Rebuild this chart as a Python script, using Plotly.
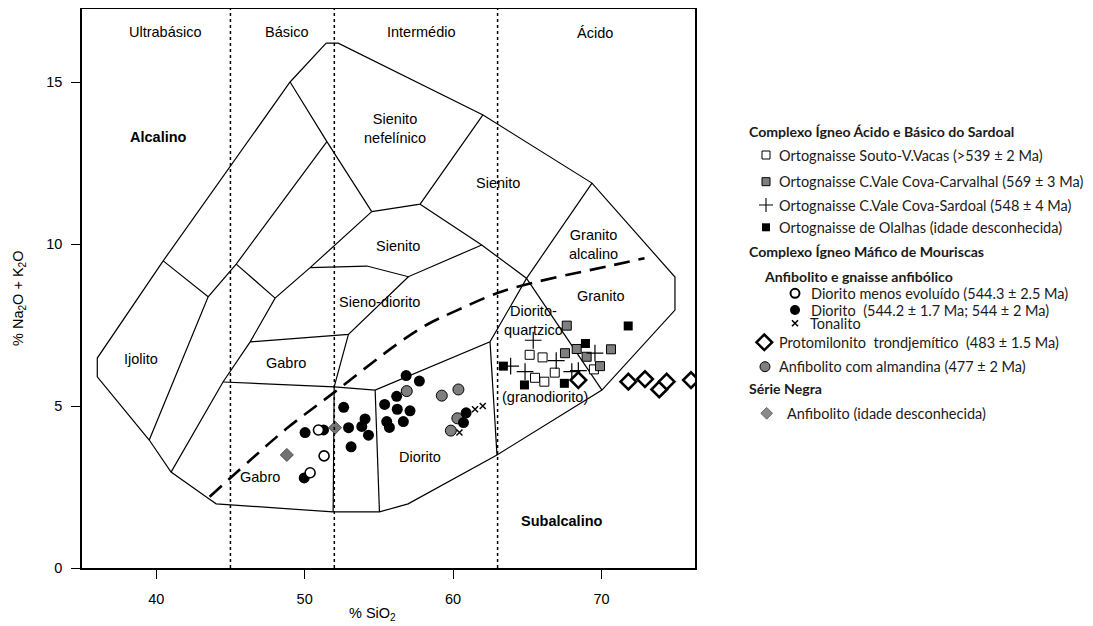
import plotly.graph_objects as go

# ---------------- data (SiO2 %, Na2O+K2O %) ----------------
souto_x = [65.16, 66.03, 65.52, 66.15, 66.85, 69.49]
souto_y = [6.58, 6.50, 5.87, 5.75, 6.03, 6.13]

carvalhal_x = [67.66, 67.54, 68.33, 69.00, 70.64, 69.90]
carvalhal_y = [7.48, 6.63, 6.76, 6.52, 6.75, 6.23]

sardoal_x = [65.40, 63.88, 64.85, 66.95, 68.00, 68.44, 69.56]
sardoal_y = [7.03, 6.23, 6.06, 6.40, 6.06, 6.09, 6.63]

olalhas_x = [63.39, 64.81, 67.50, 68.92, 71.80]
olalhas_y = [6.23, 5.65, 5.70, 6.93, 7.47]

dior_menos_x = [50.93, 51.31, 50.37]
dior_menos_y = [4.26, 3.46, 2.94]

diorito_x = [50.03, 49.97, 51.27, 52.63, 52.96, 53.13, 53.85, 54.07, 54.30, 55.39,
             55.53, 55.71, 56.20, 56.24, 56.65, 57.10, 56.84, 57.73, 60.88, 60.70]
diorito_y = [4.18, 2.78, 4.26, 4.96, 4.33, 3.74, 4.37, 4.60, 4.10, 5.05,
             4.52, 4.34, 5.30, 4.90, 4.52, 4.85, 5.94, 5.77, 4.79, 4.49]

tonalito_x = [61.48, 62.00, 60.43]
tonalito_y = [4.90, 5.00, 4.18]

protomil_x = [68.44, 71.81, 72.93, 73.89, 74.39, 76.03]
protomil_y = [5.80, 5.75, 5.83, 5.51, 5.75, 5.80]

almandina_x = [56.88, 59.24, 60.36, 60.29, 59.85]
almandina_y = [5.46, 5.32, 5.51, 4.62, 4.24]

serie_negra_x = [52.05, 48.80]
serie_negra_y = [4.33, 3.49]

# ---------------- TAS (Middlemost plutonic) field boundaries ----------------
outer_x = [51.45, 52.26, 62.02, 66.06, 69.36, 74.95, 74.95, 70.03, 62.96, 56.97, 55.04,
           51.92, 44.04, 43.57, 41.00, 39.53, 36.03, 36.03, 40.47, 49.02, 51.45]
outer_y = [16.20, 16.20, 13.98, 12.81, 11.88, 8.98, 7.96, 5.49, 3.49, 1.98, 1.73,
           1.73, 1.98, 2.13, 2.96, 3.95, 5.90, 6.48, 9.48, 15.00, 16.20]

inner_lines = [
    ([49.02, 51.50, 54.52], [15.00, 13.16, 11.00]),
    ([51.50, 45.39, 43.50, 39.53], [13.16, 9.38, 8.37, 3.95]),
    ([40.47, 43.50], [9.48, 8.37]),
    ([45.39, 48.01], [9.38, 8.33]),
    ([41.00, 44.50, 46.33, 48.01, 50.37, 54.52], [2.96, 5.74, 6.98, 8.33, 9.27, 11.00]),
    ([54.52, 57.78, 62.00], [11.00, 11.23, 13.98]),
    ([57.78, 61.93, 64.95, 69.36], [11.23, 9.97, 8.94, 11.88]),
    ([64.95, 70.03], [8.94, 5.49]),
    ([50.37, 54.19, 56.99, 61.93], [9.27, 9.32, 8.99, 9.97]),
    ([46.33, 52.95, 56.99], [6.98, 7.21, 8.99]),
    ([44.50, 51.99, 54.75, 62.49, 64.95], [5.74, 5.59, 5.49, 6.98, 8.94]),
    ([52.95, 51.99, 51.92], [7.21, 5.59, 1.73]),
    ([54.75, 55.04], [5.49, 1.73]),
    ([62.49, 62.96], [6.98, 3.49]),
]

# alkaline / subalkaline divide (Irvine & Baragar)
dash_x = [43.6, 47.0, 48.8, 51.9, 56.2, 58.2, 60.3, 63.6, 70.8, 72.9]
dash_y = [2.20, 3.60, 4.31, 5.39, 6.90, 7.50, 7.96, 8.58, 9.35, 9.56]

silica_limits = [45, 52, 63]

field_labels = [
    ("Ultrabásico", 40.6, 16.55), ("Básico", 48.8, 16.55), ("Intermédio", 57.9, 16.55),
    ("Ácido", 69.56, 16.5),
    ("Sienito<br>nefelínico", 56.1, 13.58), ("Sienito", 63.05, 11.89),
    ("Sienito", 56.3, 9.94), ("Granito<br>alcalino", 69.45, 9.97), ("Granito", 70.0, 8.4),
    ("Sieno-diorito", 55.04, 8.22), ("Diorito-<br>quartzico", 65.4, 7.65),
    ("(granodiorito)", 66.2, 5.29), ("Ijolito", 39.0, 6.44), ("Gabro", 48.75, 6.32),
    ("Gabro", 46.96, 2.82), ("Diorito", 57.78, 3.44),
]
bold_labels = [("Alcalino", 40.16, 13.31), ("Subalcalino", 67.36, 1.46)]

x_ticks = [40, 50, 60, 70]
y_ticks = [0, 5, 10, 15]

GRAY = "#7f7f7f"
fig = go.Figure()

# boundaries
fig.add_trace(go.Scatter(x=outer_x, y=outer_y, mode="lines",
                         line=dict(color="black", width=1.2), hoverinfo="skip"))
lx, ly = [], []
for xs, ys in inner_lines:
    lx += xs + [None]
    ly += ys + [None]
fig.add_trace(go.Scatter(x=lx, y=ly, mode="lines",
                         line=dict(color="black", width=1.2), hoverinfo="skip"))
for s in silica_limits:
    fig.add_shape(type="line", x0=s, x1=s, y0=0, y1=1, xref="x", yref="y domain",
                  line=dict(color="black", width=1.5, dash="dot"))
fig.add_trace(go.Scatter(x=dash_x, y=dash_y, mode="lines", line_shape="spline",
                         line=dict(color="black", width=2.6, dash="16px,9px"), hoverinfo="skip"))

# data points
def pts(x, y, symbol, size, color, lcolor="black", lwidth=0):
    fig.add_trace(go.Scatter(x=x, y=y, mode="markers",
                             marker=dict(symbol=symbol, size=size, color=color,
                                         line=dict(color=lcolor, width=lwidth))))

pts(serie_negra_x, serie_negra_y, "diamond", 10, "#737373", "#4d4d4d", 1)
pts(almandina_x, almandina_y, "circle", 11, GRAY, "black", 1)
pts(diorito_x, diorito_y, "circle", 11, "black")
pts(dior_menos_x, dior_menos_y, "circle", 10, "white", "black", 1.6)
pts(tonalito_x, tonalito_y, "x-thin", 6, "black", "black", 1.4)
pts(souto_x, souto_y, "square", 9, "white", "black", 1)
pts(carvalhal_x, carvalhal_y, "square", 9, GRAY, "black", 1)
pts(olalhas_x, olalhas_y, "square", 9, "black", "black", 0)
pts(sardoal_x, sardoal_y, "cross-thin", 12, "black", "black", 1.2)
pts(protomil_x, protomil_y, "diamond", 12, "white", "black", 2.6)

AF = "Liberation Sans, Arial"
annotations = []
for t, x, y in field_labels:
    annotations.append(dict(text=t, x=x, y=y, xref="x", yref="y", showarrow=False,
                            font=dict(family=AF, size=14.5, color="black")))
for t, x, y in bold_labels:
    annotations.append(dict(text="<b>" + t + "</b>", x=x, y=y, xref="x", yref="y", showarrow=False,
                            font=dict(family=AF, size=14.5, color="black")))

# page offset (html body margin) compensation
OFF = 8
W, H = 1093 - OFF, 626 - OFF
ML, MT, MB = 82 - OFF, 9 - OFF, 626 - 568
PLOT_R = 695 - OFF


def paper_x(px):
    return (px - OFF - ML) / (W - ML)


def paper_y(py):
    return (H - MB - (py - OFF)) / (H - MT - MB)


# axis titles
annotations.append(dict(text="% SiO<sub>2</sub>", x=paper_x(372), y=paper_y(614), xref="paper",
                        yref="paper", showarrow=False, xanchor="center", yanchor="middle",
                        font=dict(family=AF, size=14.5, color="black")))
annotations.append(dict(text="% Na<sub>2</sub>O + K<sub>2</sub>O", x=paper_x(19), y=paper_y(298),
                        xref="paper", yref="paper", showarrow=False, textangle=-90,
                        xanchor="center", yanchor="middle",
                        font=dict(family=AF, size=14.5, color="black")))

# ---------------- custom legend ----------------
LF = "Lato, Open Sans, sans-serif"
leg_marks = [
    (766, 155, "square", 8, "white", 1, "black"),
    (766, 181.7, "square", 8, GRAY, 1, "black"),
    (766, 205, "cross-thin", 10, "black", 1.1, "black"),
    (766, 227.3, "square", 8, "black", 0, "black"),
    (795, 293.3, "circle", 9, "white", 2, "black"),
    (795, 310, "circle", 10, "black", 0, "black"),
    (795, 323.3, "x-thin", 6, "black", 1.6, "black"),
    (764.3, 342.3, "diamond", 12, "white", 2.5, "black"),
    (765, 366.7, "circle", 10, GRAY, 1, "black"),
    (766.7, 413.3, "diamond", 9, "#8a8a8a", 1, "#666666"),
]
for x, y, sym, sz, col, lw, lc in leg_marks:
    fig.add_trace(go.Scatter(x=[x], y=[y], xaxis="x2", yaxis="y2", mode="markers",
                             marker=dict(symbol=sym, size=sz, color=col, line=dict(color=lc, width=lw))))

leg_texts = [
    ("<b>Complexo Ígneo Ácido e Básico do Sardoal</b>", 746.7, 131),
    ("Ortognaisse Souto-V.Vacas (>539 ± 2 Ma)", 776.7, 155),
    ("Ortognaisse C.Vale Cova-Carvalhal (569 ± 3 Ma)", 776.7, 181.7),
    ("Ortognaisse C.Vale Cova-Sardoal (548 ± 4 Ma)", 776.7, 205),
    ("Ortognaisse de Olalhas (idade desconhecida)", 776.7, 227.3),
    ("<b>Complexo Ígneo Máfico de Mouriscas</b>", 746.7, 251.7),
    ("<b>Anfibolito e gnaisse anfibólico</b>", 761.7, 276.7),
    ("Diorito menos evoluído (544.3 ± 2.5 Ma)", 809, 293.3),
    ("Diorito  (544.2 ± 1.7 Ma; 544 ± 2 Ma)", 809, 310),
    ("Tonalito", 808, 323.3),
    ("Protomilonito  trondjemítico  (483 ± 1.5 Ma)", 776.7, 342.3),
    ("Anfibolito com almandina (477 ± 2 Ma)", 776.7, 366.7),
    ("<b>Série Negra</b>", 746.7, 388.3),
    ("Anfibolito (idade desconhecida)", 785, 413.3),
]
for t, x, y in leg_texts:
    bold = t.startswith("<b>")
    annotations.append(dict(text=t, x=x, y=y, xref="x2", yref="y2", showarrow=False,
                            xanchor="left", yanchor="middle",
                            font=dict(family=LF, size=14.1 if bold else 14.5, color="#1a1a1a")))

fig.update_layout(
    width=W, height=H, showlegend=False,
    margin=dict(l=ML, r=0, t=MT, b=MB),
    paper_bgcolor="white", plot_bgcolor="rgba(0,0,0,0)",
    annotations=annotations,
    xaxis=dict(domain=[0, (PLOT_R - ML) / (W - ML)], range=[35, 76.3], tickvals=x_ticks,
               ticks="outside", ticklen=9, tickwidth=1.3, tickcolor="black",
               showline=True, mirror=True, linecolor="black", linewidth=1.6,
               showgrid=False, zeroline=False, ticklabelstandoff=8,
               tickfont=dict(family=AF, size=14.5, color="black")),
    yaxis=dict(range=[0, (568 - 9) / 32.4], tickvals=y_ticks,
               ticks="outside", ticklen=9, tickwidth=1.3, tickcolor="black",
               showline=True, mirror=True, linecolor="black", linewidth=1.6,
               showgrid=False, zeroline=False, ticklabelstandoff=6,
               tickfont=dict(family=AF, size=14.5, color="black")),
    xaxis2=dict(domain=[0, 1], range=[82, 1093], visible=False, anchor="y2"),
    yaxis2=dict(domain=[0, 1], range=[568, 9], visible=False, anchor="x2"),
)

fig.write_html("out.html")
